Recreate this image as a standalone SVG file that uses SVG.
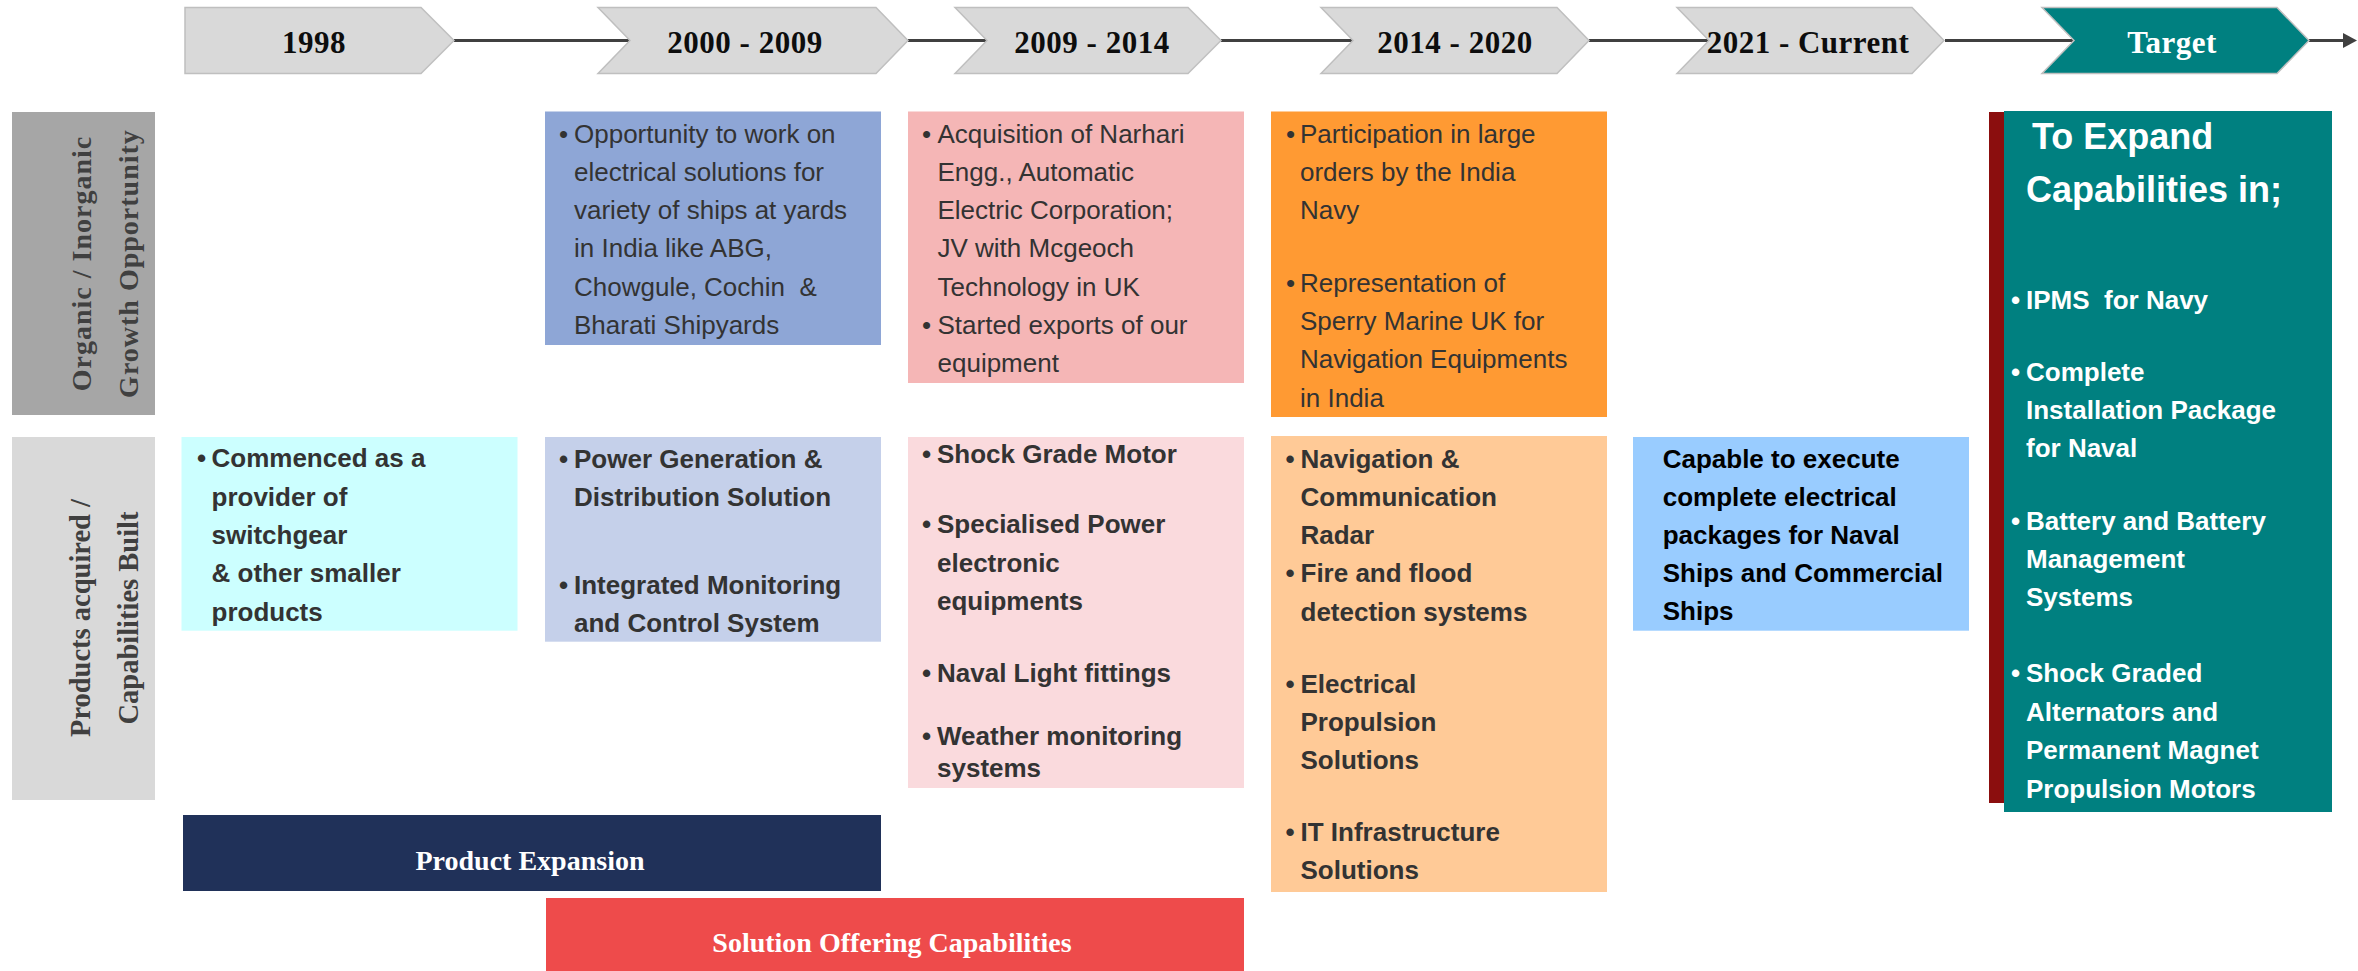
<svg xmlns="http://www.w3.org/2000/svg" width="2358" height="971" viewBox="0 0 2358 971">
<defs>
<marker id="arr" markerWidth="16" markerHeight="16" refX="0" refY="7.5" orient="auto" markerUnits="userSpaceOnUse">
<path d="M0,0 L14,7.5 L0,15 Z" fill="#404040"/>
</marker>
<style>
.chev{fill:#D9D9D9;stroke:#BFBFBF;stroke-width:1.5}
.chevT{fill:#008080;stroke:#BFBFBF;stroke-width:1.5}
.yr{font-family:"Liberation Serif",serif;font-weight:bold;font-size:31px;letter-spacing:0.5px;text-anchor:middle;fill:#0D0D0D}
.lbl{font-family:"Liberation Serif",serif;font-weight:bold;fill:#404040;text-anchor:middle}
.t{font-family:"Liberation Sans",Arial,sans-serif;font-size:26px;fill:#333333}
.b{font-family:"Liberation Sans",Arial,sans-serif;font-size:26px;font-weight:bold;fill:#333333}
.big{font-size:36px}
.bk{fill:#000000}
.w{fill:#FFFFFF}
.bar{font-family:"Liberation Serif",serif;font-weight:bold;font-size:28px;fill:#FFFFFF;text-anchor:middle}
.conn{stroke:#404040;stroke-width:3;fill:none}
</style>
</defs>
<rect width="2358" height="971" fill="#FFFFFF"/>

<g id="connectors">
<line class="conn" x1="454" y1="40.5" x2="631" y2="40.5"/>
<line class="conn" x1="908" y1="40.5" x2="988" y2="40.5"/>
<line class="conn" x1="1221" y1="40.5" x2="1354" y2="40.5"/>
<line class="conn" x1="1589" y1="40.5" x2="1710" y2="40.5"/>
<line class="conn" x1="1945" y1="40.5" x2="2075" y2="40.5"/>
<line class="conn" x1="2309" y1="40.5" x2="2343" y2="40.5" marker-end="url(#arr)"/>
</g>

<g id="h1998">
<polygon class="chev" points="185,7.5 421,7.5 454,40.5 421,73.5 185,73.5"/>
<text class="yr" x="314" y="53">1998</text>
</g>
<g id="h2000">
<polygon class="chev" points="598,7.5 876,7.5 908,40.5 876,73.5 598,73.5 630,40.5"/>
<text class="yr" x="745" y="53">2000 - 2009</text>
</g>
<g id="h2009">
<polygon class="chev" points="955,7.5 1188,7.5 1221,40.5 1188,73.5 955,73.5 987,40.5"/>
<text class="yr" x="1092" y="53">2009 - 2014</text>
</g>
<g id="h2014">
<polygon class="chev" points="1321,7.5 1557,7.5 1589,40.5 1557,73.5 1321,73.5 1353,40.5"/>
<text class="yr" x="1455" y="53">2014 - 2020</text>
</g>
<g id="h2021">
<polygon class="chev" points="1677,7.5 1912,7.5 1944,40.5 1912,73.5 1677,73.5 1709,40.5"/>
<text class="yr" x="1808" y="53">2021 - Current</text>
</g>
<g id="hTarget">
<polygon class="chevT" points="2042,7.5 2277,7.5 2309,40.5 2277,73.5 2042,73.5 2074,40.5"/>
<text class="yr w" x="2172" y="53">Target</text>
</g>

<g id="rowLabel1">
<rect x="12" y="112" width="143" height="303" fill="#A6A6A6"/>
<text class="lbl" font-size="28" letter-spacing="1" transform="translate(91,263.5) rotate(-90)">Organic / Inorganic</text>
<text class="lbl" font-size="28" letter-spacing="1" transform="translate(138,263.5) rotate(-90)">Growth Opportunity</text>
</g>
<g id="rowLabel2">
<rect x="12" y="437" width="143" height="363" fill="#D9D9D9"/>
<text class="lbl" font-size="28.5" transform="translate(90,618) rotate(-90)">Products acquired /</text>
<text class="lbl" font-size="28.5" transform="translate(137.5,618) rotate(-90)">Capabilities Built</text>
</g>

<g id="org2000">
<rect x="545" y="111.5" width="336" height="233.5" fill="#8EA6D6"/>
<text class="t"><tspan x="559" y="142.7">•</tspan><tspan x="574" y="142.7">Opportunity to work on</tspan><tspan x="574" y="180.9">electrical solutions for</tspan><tspan x="574" y="219.1">variety of ships at yards</tspan><tspan x="574" y="257.3">in India like ABG,</tspan><tspan x="574" y="295.5">Chowgule, Cochin&#160; &amp;</tspan><tspan x="574" y="333.7">Bharati Shipyards</tspan></text>
</g>
<g id="org2009">
<rect x="908" y="111.5" width="336" height="271.5" fill="#F5B6B6"/>
<text class="t"><tspan x="922" y="142.7">•</tspan><tspan x="937.5" y="142.7">Acquisition of Narhari</tspan><tspan x="937.5" y="180.9">Engg., Automatic</tspan><tspan x="937.5" y="219.1">Electric Corporation;</tspan><tspan x="937.5" y="257.3">JV with Mcgeoch</tspan><tspan x="937.5" y="295.5">Technology in UK</tspan><tspan x="922" y="333.7">•</tspan><tspan x="937.5" y="333.7">Started exports of our</tspan><tspan x="937.5" y="371.9">equipment</tspan></text>
</g>
<g id="org2014">
<rect x="1271" y="111.5" width="336" height="305.5" fill="#FF9A33"/>
<text class="t"><tspan x="1286" y="142.7">•</tspan><tspan x="1300" y="142.7">Participation in large</tspan><tspan x="1300" y="180.9">orders by the India</tspan><tspan x="1300" y="219.1">Navy</tspan><tspan x="1286" y="292">•</tspan><tspan x="1300" y="292">Representation of</tspan><tspan x="1300" y="330.2">Sperry Marine UK for</tspan><tspan x="1300" y="368.4">Navigation Equipments</tspan><tspan x="1300" y="406.6">in India</tspan></text>
</g>

<g id="cap1998">
<rect x="181.5" y="437" width="336" height="193.7" fill="#CCFFFF"/>
<text class="b"><tspan x="197" y="467.3">•</tspan><tspan x="211.5" y="467.3">Commenced as a</tspan><tspan x="211.5" y="505.6">provider of</tspan><tspan x="211.5" y="543.9">switchgear</tspan><tspan x="211.5" y="582.2">&amp; other smaller</tspan><tspan x="211.5" y="620.5">products</tspan></text>
</g>
<g id="cap2000">
<rect x="545" y="437" width="336" height="204.7" fill="#C5D0EA"/>
<text class="b"><tspan x="559" y="468">•</tspan><tspan x="574" y="468">Power Generation &amp;</tspan><tspan x="574" y="506">Distribution Solution</tspan><tspan x="559" y="594">•</tspan><tspan x="574" y="594">Integrated Monitoring</tspan><tspan x="574" y="632">and Control System</tspan></text>
</g>
<g id="cap2009">
<rect x="908" y="437" width="336" height="351" fill="#FADADD"/>
<text class="b"><tspan x="922" y="462.7">•</tspan><tspan x="937" y="462.7">Shock Grade Motor</tspan><tspan x="922" y="533">•</tspan><tspan x="937" y="533">Specialised Power</tspan><tspan x="937" y="571.5">electronic</tspan><tspan x="937" y="609.5">equipments</tspan><tspan x="922" y="681.7">•</tspan><tspan x="937" y="681.7">Naval Light fittings</tspan><tspan x="922" y="745">•</tspan><tspan x="937" y="745">Weather monitoring</tspan><tspan x="937" y="777">systems</tspan></text>
</g>
<g id="cap2014">
<rect x="1271" y="436" width="336" height="456" fill="#FFCA97"/>
<text class="b"><tspan x="1285.5" y="468.3">•</tspan><tspan x="1300.5" y="468.3">Navigation &amp;</tspan><tspan x="1300.5" y="506.3">Communication</tspan><tspan x="1300.5" y="544.3">Radar</tspan><tspan x="1285.5" y="582.3">•</tspan><tspan x="1300.5" y="582.3">Fire and flood</tspan><tspan x="1300.5" y="620.5">detection systems</tspan><tspan x="1285.5" y="692.7">•</tspan><tspan x="1300.5" y="692.7">Electrical</tspan><tspan x="1300.5" y="731">Propulsion</tspan><tspan x="1300.5" y="769">Solutions</tspan><tspan x="1285.5" y="840.7">•</tspan><tspan x="1300.5" y="840.7">IT Infrastructure</tspan><tspan x="1300.5" y="878.5">Solutions</tspan></text>
</g>
<g id="cap2021">
<rect x="1633" y="437" width="336" height="193.7" fill="#99CCFF"/>
<text class="b bk"><tspan x="1662.7" y="468.3">Capable to execute</tspan><tspan x="1662.7" y="506.3">complete electrical</tspan><tspan x="1662.7" y="544.3">packages for Naval</tspan><tspan x="1662.7" y="582.3">Ships and Commercial</tspan><tspan x="1662.7" y="620.3">Ships</tspan></text>
</g>

<g id="target">
<rect x="1989" y="112" width="15" height="691" fill="#8B0E0E"/>
<rect x="2004" y="111" width="328" height="701" fill="#008080"/>
<text class="b w big"><tspan x="2032" y="149">To Expand</tspan><tspan x="2026" y="202">Capabilities in;</tspan></text>
<text class="b w"><tspan x="2011" y="309">•</tspan><tspan x="2026" y="309">IPMS&#160; for Navy</tspan><tspan x="2011" y="381">•</tspan><tspan x="2026" y="381">Complete</tspan><tspan x="2026" y="419">Installation Package</tspan><tspan x="2026" y="457">for Naval</tspan><tspan x="2011" y="530">•</tspan><tspan x="2026" y="530">Battery and Battery</tspan><tspan x="2026" y="568">Management</tspan><tspan x="2026" y="606">Systems</tspan><tspan x="2011" y="682">•</tspan><tspan x="2026" y="682">Shock Graded</tspan><tspan x="2026" y="720.5">Alternators and</tspan><tspan x="2026" y="759">Permanent Magnet</tspan><tspan x="2026" y="797.5">Propulsion Motors</tspan></text>
</g>

<g id="productExpansion">
<rect x="183" y="815" width="698" height="76" fill="#203159"/>
<text class="bar" x="530" y="870">Product Expansion</text>
</g>
<g id="solutionOffering">
<rect x="546" y="898" width="698" height="73" fill="#EE4B4B"/>
<text class="bar" x="892" y="952">Solution Offering Capabilities</text>
</g>
</svg>
